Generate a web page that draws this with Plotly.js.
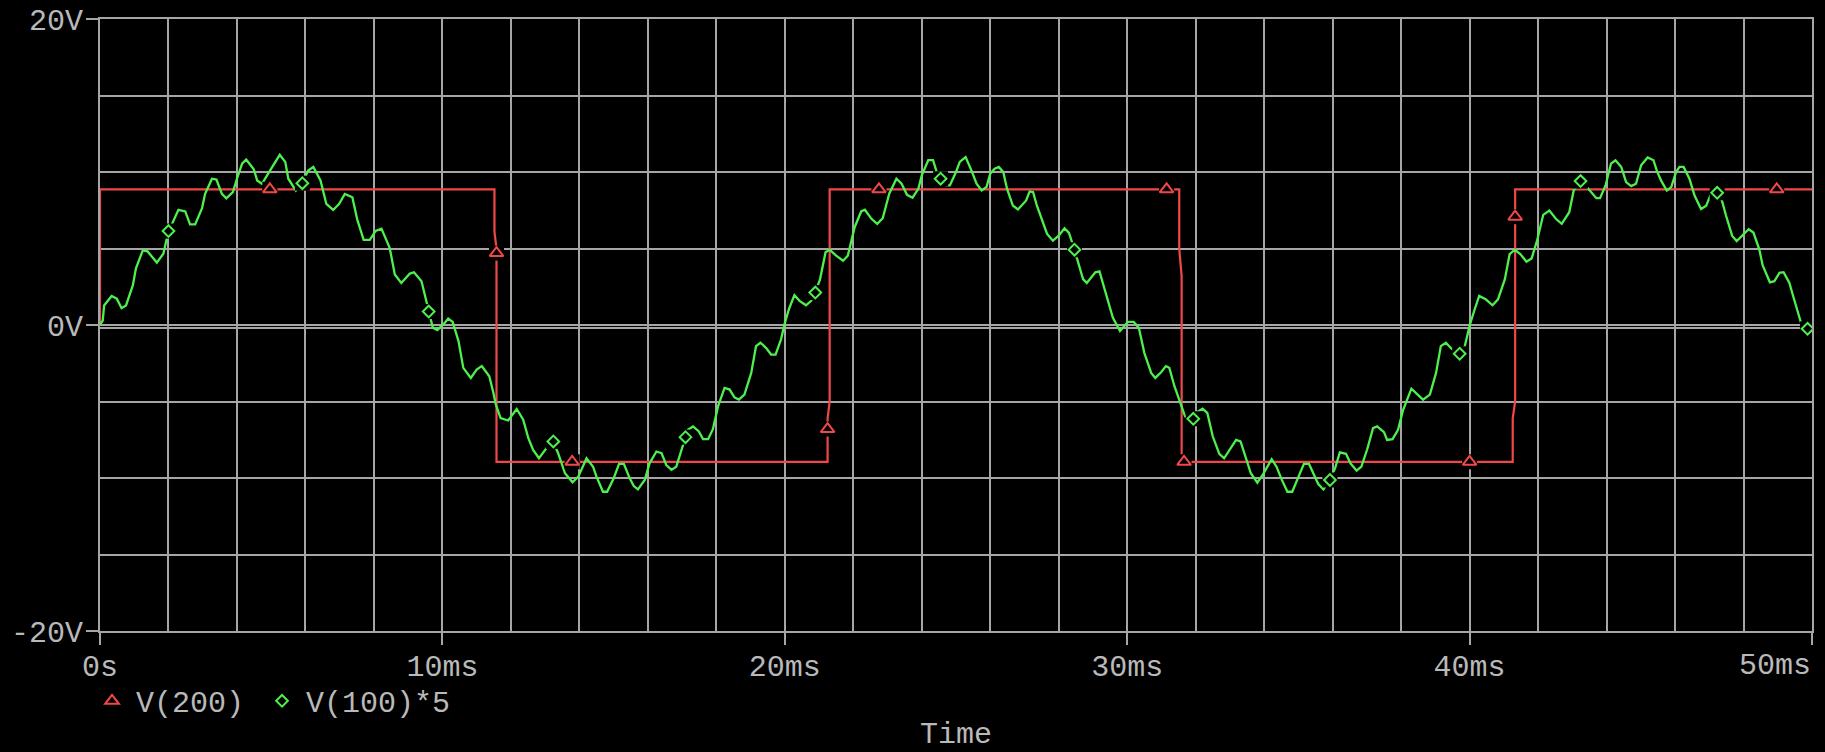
<!DOCTYPE html>
<html>
<head>
<meta charset="utf-8">
<script src="https://cdn.plot.ly/plotly-3.0.1.min.js"></script>
<style>
  html, body { margin: 0; padding: 0; background: #000; }
  #chart { width: 1825px; height: 752px; }
</style>
</head>
<body>
<div id="chart"></div>
<script>
// Transient simulation: comparator output V(200) and scaled input V(100)*5, time in ms.

// V(200): square-wave output (ms, V)
const redT = [0, 0, 11.52, 11.52, 11.58, 11.58, 21.25, 21.25, 21.31, 21.31,
              31.52, 31.52, 31.59, 31.59, 41.26, 41.26, 41.33, 41.33, 50];
const redV = [0, 8.87, 8.87, 6.1, 5.0, -8.94, -8.94, -6.1, -5.0, 8.87,
              8.87, 5.0, 3.16, -8.94, -8.94, -6.1, -5.0, 8.87, 8.87];

// Marked samples on V(200)
const redMarkT = [4.96, 11.58, 13.79, 21.25, 22.75, 31.15, 31.66, 40.0, 41.33, 48.97];
const redMarkV = [8.87, 4.7, -8.94, -6.8, 8.87, 8.87, -8.94, -8.94, 7.08, 8.87];

// V(100)*5: rippled sine (ms, V)
const greenT = [
  0, 0.08, 0.12, 0.34, 0.49, 0.63, 0.76, 0.96, 1.05, 1.25, 1.39, 1.66, 1.85, 2.0, 2.1, 2.29,
  2.49, 2.63, 2.78, 2.98, 3.07, 3.27, 3.40, 3.56, 3.69, 3.88, 4.0, 4.15, 4.27, 4.49, 4.59, 4.73,
  5.05, 5.25, 5.41, 5.5, 5.72, 5.91, 6.08, 6.23, 6.44, 6.61, 6.81, 6.98, 7.15, 7.37, 7.51, 7.7,
  7.88, 8.05, 8.22, 8.46, 8.61, 8.8, 9.05, 9.17, 9.39, 9.6,
  9.72, 9.85, 10.03, 10.17, 10.3, 10.47, 10.61, 10.83, 11.0, 11.15, 11.37, 11.49, 11.56, 11.7,
  11.92, 12.17, 12.36, 12.51, 12.65, 12.82, 13.04, 13.24, 13.38, 13.58, 13.8, 13.97, 14.21, 14.4,
  14.5, 14.69, 14.81, 14.99, 15.16, 15.3, 15.47, 15.59, 15.71, 15.91, 16.05, 16.25, 16.4, 16.54,
  16.69, 16.83, 16.98, 17.1, 17.17, 17.32, 17.49, 17.61, 17.76, 17.9, 18.05, 18.24, 18.39, 18.53,
  18.66, 18.82, 19.02, 19.16, 19.29, 19.45, 19.6, 19.73, 19.89, 19.99, 20.12, 20.28, 20.43, 20.62,
  20.77, 20.89, 21.03, 21.19, 21.31, 21.5, 21.7, 21.84, 22.04, 22.23,
  22.34, 22.53, 22.7, 22.86, 23.05, 23.26, 23.41, 23.57, 23.73, 23.9, 24.0, 24.19, 24.33, 24.43,
  24.55, 24.72, 24.82, 25.0, 25.11, 25.28, 25.45, 25.6, 25.75, 25.89, 26.0, 26.13, 26.25, 26.38,
  26.49, 26.66, 26.81, 27.05, 27.15, 27.25, 27.36, 27.54, 27.66, 27.83, 28.0, 28.17, 28.3, 28.46,
  28.71, 28.82, 29.07, 29.19, 29.39, 29.58, 29.79, 30.02, 30.19, 30.34, 30.5, 30.7, 30.82, 30.99,
  31.13, 31.23, 31.38,
  31.45, 31.56, 31.69, 31.93, 32.03, 32.2, 32.34, 32.5, 32.69, 32.83, 33.0, 33.18, 33.31, 33.44,
  33.61, 33.8, 33.97, 34.22, 34.36, 34.51, 34.68, 34.82, 34.99, 35.16, 35.31, 35.43, 35.58, 35.73,
  35.92, 36.07, 36.21, 36.39, 36.52, 36.7, 36.84, 37.01, 37.18, 37.3, 37.5, 37.59, 37.75, 37.91,
  38.06, 38.3, 38.43, 38.64, 38.84, 39.02, 39.16, 39.31, 39.47, 39.71, 39.86, 40.01, 40.15, 40.28,
  40.47, 40.67, 40.83, 41.03, 41.17, 41.32, 41.48, 41.66, 41.81, 41.97, 42.15, 42.33, 42.52, 42.69,
  42.91,
  43.04, 43.24, 43.45, 43.7, 43.81, 43.97, 44.13, 44.26, 44.43, 44.57, 44.72, 44.86, 45.01, 45.2,
  45.37, 45.47, 45.59, 45.76, 45.89, 46.03, 46.13, 46.25, 46.42, 46.57, 46.76, 46.91, 47.03, 47.23,
  47.37, 47.49, 47.67, 47.8, 47.96, 48.15, 48.29, 48.46, 48.56, 48.77, 48.9, 49.05, 49.17, 49.34,
  49.48, 49.68, 49.84, 50.0
];
const greenV = [
  0, 0.29, 1.28, 1.9, 1.72, 1.1, 1.28, 2.6, 3.7, 4.88, 4.81, 4.08, 4.66, 6.14, 6.58, 7.53,
  7.42, 6.58, 6.58, 7.64, 8.57, 9.56, 9.51, 8.57, 8.28, 8.68, 9.56, 10.55, 10.82, 10.18, 9.45, 9.23,
  10.4, 11.12, 10.66, 9.56, 8.79, 9.27, 10.1, 10.33, 9.45, 7.91, 7.52, 7.91, 8.57, 8.35, 6.92, 5.56,
  5.56, 6.15, 6.3, 5.05, 3.3, 2.75, 3.36, 3.45, 2.86, 0.88,
  -0.18, -0.33, 0.04, 0.42, 0.2, -1.05, -2.8, -3.46, -2.91, -2.69, -3.35, -4.44, -5.2, -6.08,
  -6.24, -5.49, -6.19, -7.4, -8.16, -8.71, -8.05, -7.61, -8.38, -9.69, -10.28, -9.91, -8.71, -9.26,
  -9.91, -10.9, -10.9, -10.09, -9.08, -9.08, -10.02, -10.53, -10.74, -10.13, -9.04, -8.27, -8.38, -9.15,
  -9.47, -9.26, -8.27, -7.33, -6.85, -6.63, -6.96, -7.46, -7.46, -6.81, -5.32, -4.11, -4.22, -4.73,
  -4.88, -4.55, -3.13, -1.38, -1.16, -1.49, -1.93, -1.93, -0.94, 0.04, 1.03, 1.95, 1.58, 1.29,
  1.58, 2.12, 3.0, 4.75, 4.92, 4.53, 4.2, 4.53, 6.39, 7.42,
  7.53, 6.94, 6.61, 6.98, 8.58, 9.56, 9.23, 8.51, 8.32, 8.9, 9.78, 10.77, 10.77, 10.04,
  9.56, 9.12, 9.12, 10.0, 10.66, 10.98, 10.11, 9.23, 8.8, 9.02, 9.89, 10.22, 10.33, 10.0,
  8.91, 7.81, 7.55, 8.14, 8.73, 8.69, 7.81, 6.61, 5.95, 5.51, 5.84, 6.32, 6.02, 4.92,
  3.0, 2.74, 3.44, 3.5, 2.01, 0.48, -0.39, 0.2, 0.2, -0.18, -1.82, -3.13, -3.46, -3.09,
  -2.69, -2.8, -4.0,
  -4.44, -5.05, -5.97, -6.13, -5.71, -5.47, -5.75, -7.29, -8.42, -8.71, -8.16, -7.51, -7.61, -8.49,
  -9.69, -10.31, -9.74, -8.77, -9.26, -10.09, -10.9, -10.9, -10.02, -9.08, -9.08, -9.69, -10.39, -10.74,
  -10.13, -9.37, -8.32, -8.42, -9.04, -9.52, -9.26, -8.12, -6.74, -6.63, -7.0, -7.51, -7.46, -6.85,
  -5.54, -4.16, -4.44, -4.88, -4.55, -3.13, -1.38, -1.16, -1.55, -1.88, -1.38, 0.04, 1.03, 1.9,
  1.68, 1.29, 1.68, 3.0, 4.64, 4.92, 4.64, 4.14, 4.35, 5.51, 7.2, 7.48, 6.94, 6.61,
  7.37,
  8.79, 9.41, 8.95, 8.29, 8.29, 9.12, 10.55, 10.77, 10.33, 9.34, 9.08, 9.23, 10.44, 10.95,
  10.77, 10.07, 9.45, 8.79, 9.01, 10.0, 10.33, 10.33, 9.56, 8.46, 7.58, 7.8, 8.46, 8.64,
  8.13, 7.14, 5.82, 5.49, 5.82, 6.26, 6.04, 4.95, 3.89, 2.79, 2.86, 3.41, 3.45, 2.75,
  1.65, 0.15, -0.37, 0
];

// Marked samples on V(100)*5
const greenMarkT = [2.0, 5.91, 9.6, 13.24, 17.1, 20.89, 24.55, 28.46, 31.93, 35.92, 39.71, 43.24, 47.23, 49.87];
const greenMarkV = [6.14, 9.27, 0.88, -7.61, -7.33, 2.12, 9.56, 4.92, -6.13, -10.13, -1.88, 9.41, 8.64, -0.25];

// Axis labels; the end label is set right-aligned to the plot edge separately
const xTickVals = [0, 10, 20, 30, 40, 50];
const xTickText = ['0s', '10ms', '20ms', '30ms', '40ms', ''];
const xEndLabel = '50ms';
const yTickVals = [-20, 0, 20];
const yTickText = ['-20V', '0V', '20V'];

const RED = '#f04848';
const GREEN = '#4ef04e';
const GRID = '#a6a6a6';
const TEXT = '#b9b9b9';
const FONT = 'Liberation Mono, Courier New, monospace';
const labelFont = { family: FONT, size: 30, color: TEXT };

const traces = [
  { x: redT, y: redV, mode: 'lines', line: { color: RED, width: 2.2 }, showlegend: false, hoverinfo: 'skip' },
  { x: greenT, y: greenV, mode: 'lines', line: { color: GREEN, width: 2.3 }, showlegend: false, hoverinfo: 'skip' },
  // dark pads that clear the space around each marker symbol
  { x: redMarkT, y: redMarkV, mode: 'markers', marker: { symbol: 'square', size: 15, color: '#000' }, showlegend: false, hoverinfo: 'skip' },
  { x: greenMarkT, y: greenMarkV, mode: 'markers', marker: { symbol: 'square', size: 15, color: '#000' }, showlegend: false, hoverinfo: 'skip' },
  { x: redMarkT, y: redMarkV, mode: 'markers', name: 'V(200)', legend: 'legend',
    marker: { symbol: 'triangle-up-open', size: 12, color: RED, line: { color: RED, width: 2 } } },
  { x: greenMarkT, y: greenMarkV, mode: 'markers', name: 'V(100)*5', legend: 'legend2',
    marker: { symbol: 'diamond-open', size: 9, color: GREEN, line: { color: GREEN, width: 2 } } }
];

const axisCommon = {
  showgrid: true, gridcolor: GRID, gridwidth: 2,
  zeroline: false,
  showline: true, linecolor: GRID, linewidth: 2, mirror: true,
  ticks: 'outside', ticklen: 12, tickwidth: 2, tickcolor: GRID,
  tickfont: labelFont,
  layer: 'below traces',
  automargin: false,
  fixedrange: true
};

const legendCommon = {
  orientation: 'h', xanchor: 'left', y: -0.114, yanchor: 'middle',
  itemwidth: 38,
  font: labelFont,
  bgcolor: 'rgba(0,0,0,0)', itemclick: false, itemdoubleclick: false
};

const layout = {
  width: 1825, height: 752,
  paper_bgcolor: '#000', plot_bgcolor: '#000',
  margin: { l: 100, r: 13, t: 19, b: 121 },
  showlegend: true,
  legend: Object.assign({}, legendCommon, { x: -0.007 }),
  legend2: Object.assign({}, legendCommon, { x: 0.0923 }),
  xaxis: Object.assign({}, axisCommon, {
    range: [0, 50],
    tickmode: 'array', tickvals: xTickVals, ticktext: xTickText,
    ticklabelstandoff: -5,
    minor: { dtick: 2, tick0: 0, showgrid: true, gridcolor: GRID, gridwidth: 2, ticks: '' },
    title: { text: 'Time', font: labelFont, standoff: 47 }
  }),
  yaxis: Object.assign({}, axisCommon, {
    range: [-20, 20],
    tickmode: 'array', tickvals: yTickVals, ticktext: yTickText,
    ticklabelstandoff: -3,
    minor: { dtick: 5, tick0: 0, showgrid: true, gridcolor: GRID, gridwidth: 2, ticks: '' }
  }),
  annotations: [
    { text: xEndLabel, x: xTickVals[xTickVals.length - 1], xref: 'x', xanchor: 'right',
      y: -0.058, yref: 'paper', yanchor: 'middle', showarrow: false, font: labelFont, borderpad: 0 }
  ],
  shapes: [
    // second rule just under the 0V line
    { type: 'line', layer: 'below', xref: 'paper', x0: 0, x1: 1,
      yref: 'y', ysizemode: 'pixel', yanchor: 0, y0: -3, y1: -3,
      line: { color: GRID, width: 2 } }
  ]
};

Plotly.newPlot('chart', traces, layout, { staticPlot: true, displayModeBar: false });
</script>
</body>
</html>
